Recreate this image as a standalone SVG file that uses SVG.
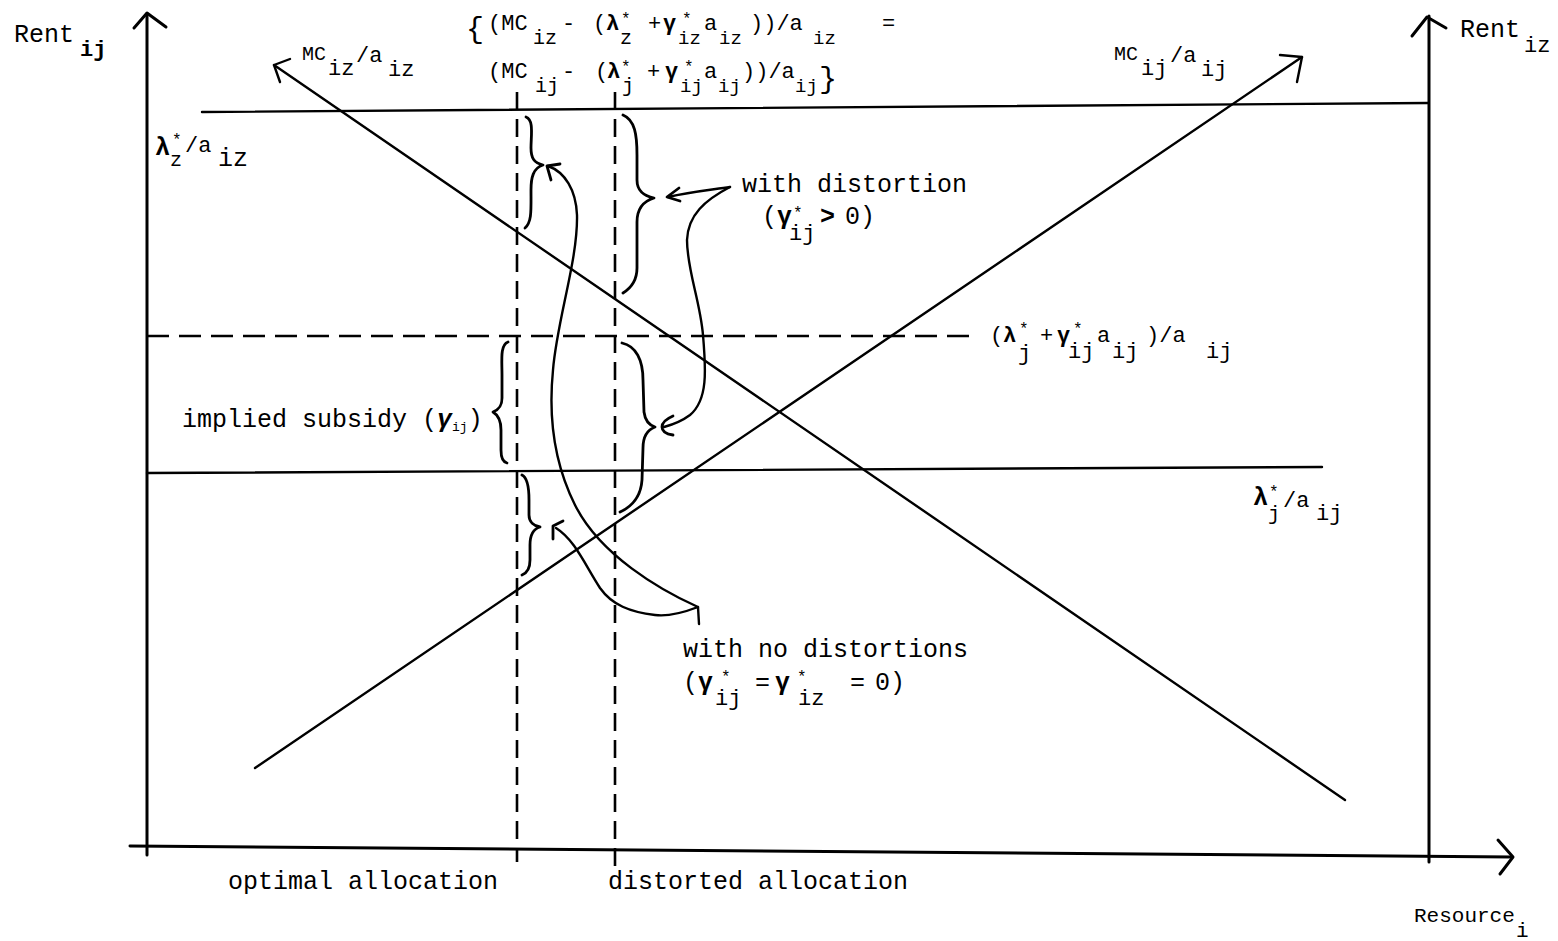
<svg xmlns="http://www.w3.org/2000/svg" width="1558" height="941" viewBox="0 0 1558 941">
<style>
.ln{fill:none;stroke:#000;stroke-width:2.4;stroke-linecap:round;stroke-linejoin:round}
.ax{fill:none;stroke:#000;stroke-width:3;stroke-linecap:round;stroke-linejoin:round}
.hd{fill:none;stroke:#000;stroke-width:2.8;stroke-linecap:round;stroke-linejoin:round}
.dv{fill:none;stroke:#000;stroke-width:2.6;stroke-dasharray:18 9}
.dh{fill:none;stroke:#000;stroke-width:2.6;stroke-dasharray:22 10}
text{font-family:"Liberation Mono","DejaVu Sans Mono",monospace;fill:#000;font-size:25px}
.f22{font-size:22px}
.f20{font-size:20px}
.f19{font-size:19px}
.sm{font-size:16px}
.b{font-weight:bold}
</style>
<rect width="1558" height="941" fill="#fff"/>
<g id="axes">
<path class="ax" d="M147,14 L147,855"/>
<path class="ax" d="M134,28 L147,13 L166,27"/>
<path class="ax" d="M1429,16 L1429,862"/>
<path class="ax" d="M1412,36 L1427,17 L1446,28"/>
<path class="ax" d="M130,846 L1512,857"/>
<path class="ax" d="M1498,840 L1513,857 L1500,874"/>
</g>
<g id="levels">
<path class="ln" d="M202,112 L1428,103"/>
<path class="ln" d="M147,473 L1322,467"/>
<path class="dh" d="M147,336 L975,336"/>
<path class="dv" d="M517,92 L517,862"/>
<path class="dv" d="M615,92 L615,866"/>
</g>
<g id="curve-mciz">
<path class="ln" d="M274,65 L1345,800"/>
<path class="ln" d="M290,59 L274,65 L280,82"/>
</g>
<g id="curve-mcij">
<path class="ln" d="M255,768 L1302,57"/>
<path class="ln" d="M1280,55 L1302,57 L1297,82"/>
</g>
<g id="braces">
<path class="hd" d="M526,117 C534,120 531,135 531,148 C531,158 534,163 543,165 C533,168 531,178 531,190 C531,210 532,222 525,228"/>
<path class="hd" d="M623,115 C635,120 637,135 637,155 L637,180 C637,192 645,196 654,198 C644,201 637,208 637,222 L637,268 C637,280 631,288 623,293"/>
<path class="hd" d="M508,342 C500,345 502,360 502,375 L502,398 C502,407 498,410 493,412 C498,415 501,420 501,430 L501,450 C501,458 503,462 507,463"/>
<path class="hd" d="M622,343 C636,346 643,360 643,380 L644,412 C645,420 649,425 655,427 C647,430 643,436 643,448 L642,480 C641,495 633,506 620,512"/>
<path class="hd" d="M522,475 C528,478 529,490 529,500 L529,515 C529,522 534,526 540,527 C533,529 530,535 530,545 L530,560 C530,568 527,573 522,575"/>
</g>
<g id="connectors">
<path class="ln" d="M698,607 C660,590 600,555 575,505 C555,465 548,420 553,370 C557,320 578,260 577,215 C576,190 565,172 548,166"/>
<path class="hd" d="M560,164 L547,166 L551,180"/>
<path class="ln" d="M699,624 L698,607 C685,612 670,617 655,615 C630,612 612,605 600,588 C585,565 575,540 556,528"/>
<path class="hd" d="M563,521 L553,526 L553,539"/>
<path class="ln" d="M730,187 C710,190 690,192 668,197"/>
<path class="hd" d="M679,188 L667,197 L680,201"/>
<path class="ln" d="M730,187 C705,200 688,215 687,240 C687,270 700,300 703,335 C706,370 708,400 690,415 C682,421 675,424 664,427"/>
<path class="hd" d="M673,416 C666,419 662,423 662,427 C662,431 666,434 673,435"/>
</g>
<g id="labels">
<text x="14" y="42">Rent</text><text class="f22 b" x="80" y="56">ij</text>
<text class="f20" x="302" y="60">MC</text><text class="f22" x="328" y="75">iz</text><text class="f22" x="356" y="62">/a</text><text class="f22" x="388" y="76">iz</text>
<text class="b" x="155" y="155">λ</text><text class="sm" x="172" y="145">*</text><text class="f20" x="170" y="166">z</text><text class="f22" x="185" y="152">/a</text><text x="218" y="166">iz</text>
<text class="f20" x="1114" y="60">MC</text><text class="f22" x="1141" y="75">ij</text><text class="f22" x="1170" y="62">/a</text><text class="f22" x="1201" y="76">ij</text>
<text x="1460" y="37">Rent</text><text class="f22" x="1524" y="52">iz</text>
</g>
<g id="formula">
<text style="font-size:30px" x="466" y="38">{</text>
<text class="f22" x="488" y="30">(MC</text><text class="f20" x="533" y="44">iz</text><text class="f22" x="562" y="30">-</text>
<text class="f22" x="593" y="30">(</text><text class="f22 b" x="606" y="30">λ</text><text class="sm" x="621" y="24">*</text><text class="f20" x="620" y="44">z</text>
<text class="f22" x="648" y="30">+</text><text class="f22 b" x="663" y="30">γ</text><text class="sm" x="682" y="24">*</text><text class="f19" x="678" y="44">iz</text>
<text class="f22" x="704" y="30">a</text><text class="f19" x="719" y="44">iz</text><text class="f22" x="750" y="30">))/a</text><text class="f19" x="813" y="44">iz</text><text class="f22" x="882" y="30">=</text>
<text class="f22" x="488" y="78">(MC</text><text class="f20" x="535" y="92">ij</text><text class="f22" x="562" y="78">-</text>
<text class="f22" x="595" y="78">(</text><text class="f22 b" x="607" y="78">λ</text><text class="sm" x="621" y="72">*</text><text class="f20" x="622" y="92">j</text>
<text class="f22" x="647" y="78">+</text><text class="f22 b" x="665" y="78">γ</text><text class="sm" x="684" y="72">*</text><text class="f19" x="680" y="92">ij</text>
<text class="f22" x="704" y="78">a</text><text class="f19" x="718" y="92">ij</text><text class="f22" x="742" y="78">))/a</text><text class="f19" x="795" y="92">ij</text>
<text style="font-size:30px" x="819" y="88">}</text>
</g>
<g id="label-distortion">
<text x="742" y="192">with distortion</text>
<text x="762" y="224">(<tspan class="b">γ</tspan></text><text class="sm" x="793" y="218">*</text><text class="f22" x="789" y="240">ij</text><text class="b" x="820" y="224">&gt;</text><text x="845" y="224">0)</text>
</g>
<g id="label-subsidy-level">
<text class="f22" x="990" y="342">(</text><text class="f22 b" x="1003" y="342">λ</text><text class="sm" x="1019" y="334">*</text><text class="f22" x="1018" y="360">j</text>
<text class="f22" x="1040" y="342">+</text><text class="f22 b" x="1057" y="342">γ</text><text class="sm" x="1073" y="334">*</text><text class="f22" x="1068" y="358">ij</text>
<text class="f22" x="1097" y="342">a</text><text class="f22" x="1112" y="358">ij</text><text class="f22" x="1146" y="342">)/a</text><text class="f22" x="1206" y="358">ij</text>
</g>
<g id="label-lambda-j">
<text class="b" x="1253" y="505">λ</text><text class="sm" x="1269" y="497">*</text><text class="f20" x="1268" y="520">j</text><text class="f22" x="1283" y="507">/a</text><text class="f22" x="1316" y="520">ij</text>
</g>
<g id="label-implied">
<text x="182" y="427">implied subsidy (<tspan class="b" font-style="italic">γ</tspan><tspan style="font-size:13px" dy="4">ij</tspan><tspan dy="-4">)</tspan></text>
</g>
<g id="label-nodistortion">
<text x="683" y="657">with no distortions</text>
<text x="683" y="690">(<tspan class="b">γ</tspan></text><text class="sm" x="721" y="682">*</text><text class="f22" x="715" y="705">ij</text>
<text x="755" y="690">=</text><text class="b" x="775" y="690">γ</text><text class="sm" x="797" y="682">*</text><text class="f22" x="798" y="705">iz</text>
<text x="850" y="690">=</text><text x="875" y="690">0)</text>
</g>
<g id="label-axis">
<text x="228" y="889">optimal allocation</text>
<text x="608" y="889">distorted allocation</text>
<text style="font-size:21px" x="1414" y="922">Resource</text><text style="font-size:21px" x="1516" y="937">i</text>
</g>
</svg>
